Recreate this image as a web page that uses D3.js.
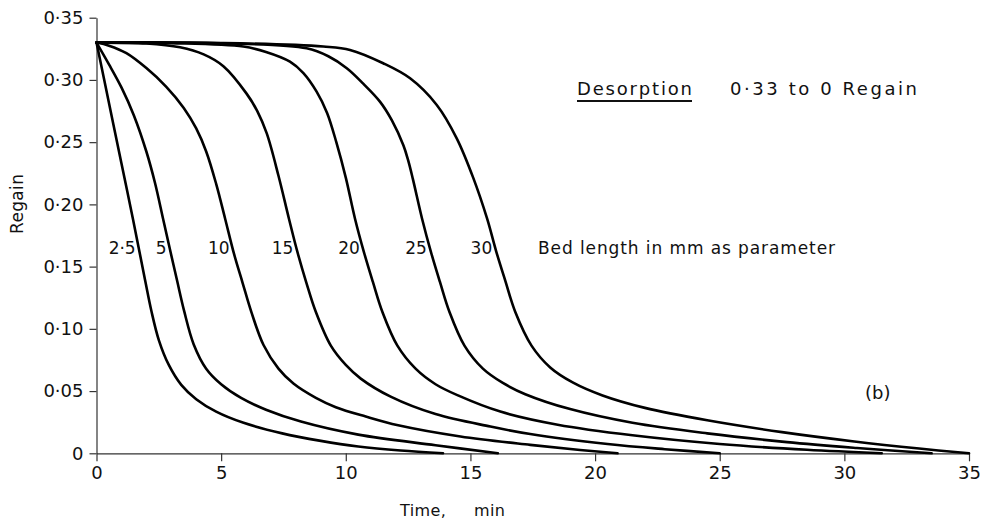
<!DOCTYPE html>
<html>
<head>
<meta charset="utf-8">
<script src="https://cdn.jsdelivr.net/npm/d3@7"></script>
<style>
  html, body { margin: 0; padding: 0; background: #fff; }
  svg { display: block; }
  text { font-family: "DejaVu Sans", "Noto Sans", sans-serif; fill: #111; }
</style>
</head>
<body>
<svg id="chart" width="988" height="525"></svg>
<script>
// Desorption curves, regain 0.33 -> 0, one curve per bed length (mm).
// Each point is [time in min, regain].
const bedLengths = ["2·5", "5", "10", "15", "20", "25", "30"];

const bed2_5 = [[0,0.33],[0.5,0.2815],[1.0,0.233],[1.46,0.1885],[1.95,0.139],[2.2,0.1145],[2.5,0.091],[2.9,0.071],[3.4,0.055],[4.0,0.0435],[4.8,0.0335],[5.9,0.0245],[7.45,0.016],[9.0,0.010],[10.5,0.0055],[12.2,0.0022],[13.9,0]];
const bed5 = [[0,0.33],[0.5,0.3125],[1.0,0.294],[1.5,0.2715],[2.0,0.2425],[2.35,0.217],[2.67,0.1885],[2.95,0.1635],[3.23,0.139],[3.52,0.114],[3.9,0.0875],[4.4,0.068],[5.0,0.0555],[5.8,0.0445],[6.8,0.035],[8.2,0.0255],[10.5,0.015],[13.6,0.0065],[16.1,0]];
const bed10 = [[0,0.33],[0.5,0.3275],[1.2,0.3215],[2.0,0.3095],[2.8,0.2945],[3.5,0.2775],[4.0,0.261],[4.4,0.2425],[4.8,0.2165],[5.16,0.1885],[5.52,0.160],[5.86,0.137],[6.22,0.113],[6.7,0.087],[7.3,0.068],[7.9,0.056],[8.8,0.0445],[9.6,0.037],[10.8,0.0295],[12.1,0.0225],[14.6,0.0135],[17.4,0.0068],[19.4,0.0027],[20.9,0]];
const bed15 = [[0,0.33],[2.0,0.3293],[3.35,0.3262],[4.3,0.3205],[5.09,0.311],[6.02,0.289],[6.45,0.275],[6.83,0.257],[7.3,0.223],[7.72,0.1885],[8.07,0.161],[8.42,0.137],[8.8,0.1135],[9.4,0.0865],[10.0,0.071],[10.6,0.060],[11.8,0.0455],[13.6,0.0315],[15.8,0.0215],[17.4,0.0155],[20.5,0.0075],[22.8,0.0033],[25,0]];
const bed20 = [[0,0.33],[3,0.3295],[5.89,0.3268],[6.8,0.3225],[7.76,0.3147],[8.3,0.3055],[8.83,0.2906],[9.25,0.2735],[9.62,0.250],[10.0,0.2215],[10.37,0.1885],[10.73,0.1615],[11.09,0.1375],[11.47,0.1135],[12.07,0.0865],[12.8,0.068],[13.6,0.0555],[14.5,0.0465],[16.2,0.0335],[18.5,0.023],[21.5,0.0145],[25,0.0075],[28.5,0.0028],[31.5,0]];
const bed25 = [[0,0.33],[5,0.3295],[8.43,0.3254],[9.3,0.319],[10.04,0.3094],[10.7,0.297],[11.37,0.2826],[11.85,0.2675],[12.31,0.2475],[12.5,0.2355],[12.69,0.2205],[13.06,0.1885],[13.42,0.1615],[13.78,0.1375],[14.16,0.1135],[14.76,0.0865],[15.5,0.068],[16.3,0.0565],[17.2,0.0475],[19,0.0355],[21.5,0.0245],[24.5,0.016],[27.7,0.009],[30.5,0.0043],[33.5,0]];
const bed30 = [[0,0.33],[5.09,0.3297],[9.1,0.3268],[10.17,0.3241],[11.5,0.3134],[12.58,0.3013],[13.65,0.2799],[14.45,0.2531],[15.11,0.2215],[15.67,0.1885],[16.03,0.1625],[16.4,0.1385],[16.8,0.1135],[17.45,0.0865],[18.2,0.069],[19.1,0.057],[20.3,0.0465],[22,0.0365],[24.5,0.0265],[27.5,0.017],[30.4,0.0095],[33,0.0038],[35,0]];

const curves = [bed2_5, bed5, bed10, bed15, bed20, bed25, bed30];

const xTicks = [0, 5, 10, 15, 20, 25, 30, 35];
const yTicks = [0, 0.05, 0.10, 0.15, 0.20, 0.25, 0.30, 0.35];
const yTickLabels = ["0", "0·05", "0·10", "0·15", "0·20", "0·25", "0·30", "0·35"];

// Regain level at which the bed-length labels sit
const labelRegain = 0.165;

const svg = d3.select("#chart");

const x = d3.scaleLinear().domain([0, 35]).range([96.5, 969]);
const y = d3.scaleLinear().domain([0, 0.35]).range([453.3, 17.7]);

// Axes
const xAxis = d3.axisBottom(x)
  .tickValues(xTicks)
  .tickFormat(d3.format("d"))
  .tickSize(8)
  .tickSizeOuter(0)
  .tickPadding(5);

const yAxis = d3.axisLeft(y)
  .tickValues(yTicks)
  .tickFormat((d, i) => yTickLabels[i])
  .tickSize(7)
  .tickSizeOuter(0)
  .tickPadding(6);

const gx = svg.append("g")
  .attr("transform", `translate(0,${y(0)})`)
  .call(xAxis);

const gy = svg.append("g")
  .attr("transform", `translate(${x(0)},0)`)
  .call(yAxis);

[gx, gy].forEach(g => {
  g.select(".domain").attr("stroke", "#333").attr("stroke-width", 1.2);
  g.selectAll(".tick line").attr("stroke", "#333").attr("stroke-width", 1.2);
  g.selectAll(".tick text")
    .style("font-family", '"DejaVu Sans", sans-serif')
    .style("font-size", "18px")
    .attr("fill", "#111");
});

// Curves
const line = d3.line()
  .x(d => x(d[0]))
  .y(d => y(d[1]))
  .curve(d3.curveCatmullRom.alpha(0.5));

svg.append("g")
  .selectAll("path")
  .data(curves)
  .join("path")
  .attr("d", line)
  .attr("fill", "none")
  .attr("stroke", "#000")
  .attr("stroke-width", 2.6)
  .attr("stroke-linejoin", "round")
  .attr("stroke-linecap", "round");

// Time at which a curve passes a given regain (linear between points)
function timeAt(points, r) {
  for (let i = 1; i < points.length; i++) {
    const a = points[i - 1], b = points[i];
    if ((a[1] - r) * (b[1] - r) <= 0 && a[1] !== b[1]) {
      return a[0] + (r - a[1]) * (b[0] - a[0]) / (b[1] - a[1]);
    }
  }
  return points[0][0];
}

// Bed-length labels, set just left of each curve
svg.append("g")
  .selectAll("text")
  .data(curves)
  .join("text")
  .attr("x", d => x(timeAt(d, labelRegain)) - 3)
  .attr("y", y(labelRegain) + 6)
  .attr("text-anchor", "end")
  .style("font-size", "17px")
  .text((d, i) => bedLengths[i]);

// Axis titles
svg.append("text")
  .attr("transform", `translate(23,204) rotate(-90)`)
  .attr("text-anchor", "middle")
  .attr("textLength", 60)
  .attr("lengthAdjust", "spacing")
  .style("font-size", "17px")
  .text("Regain");

svg.append("text")
  .attr("x", 400)
  .attr("y", 516)
  .attr("textLength", 105)
  .attr("lengthAdjust", "spacing")
  .style("font-size", "16px")
  .style("white-space", "pre")
  .text("Time,     min");

// Annotations
svg.append("text")
  .attr("x", 577)
  .attr("y", 95)
  .attr("textLength", 115)
  .attr("lengthAdjust", "spacing")
  .style("font-size", "18px")
  .text("Desorption");
svg.append("line")
  .attr("x1", 577).attr("x2", 692)
  .attr("y1", 101).attr("y2", 101)
  .attr("stroke", "#111").attr("stroke-width", 1.8);

svg.append("text")
  .attr("x", 730)
  .attr("y", 95)
  .attr("textLength", 187)
  .attr("lengthAdjust", "spacing")
  .style("font-size", "18px")
  .text("0·33 to 0 Regain");

svg.append("text")
  .attr("x", 538)
  .attr("y", 254)
  .attr("textLength", 297)
  .attr("lengthAdjust", "spacing")
  .style("font-size", "17px")
  .text("Bed length in mm as parameter");

svg.append("text")
  .attr("x", 865)
  .attr("y", 399)
  .style("font-size", "18px")
  .text("(b)");
</script>
</body>
</html>
